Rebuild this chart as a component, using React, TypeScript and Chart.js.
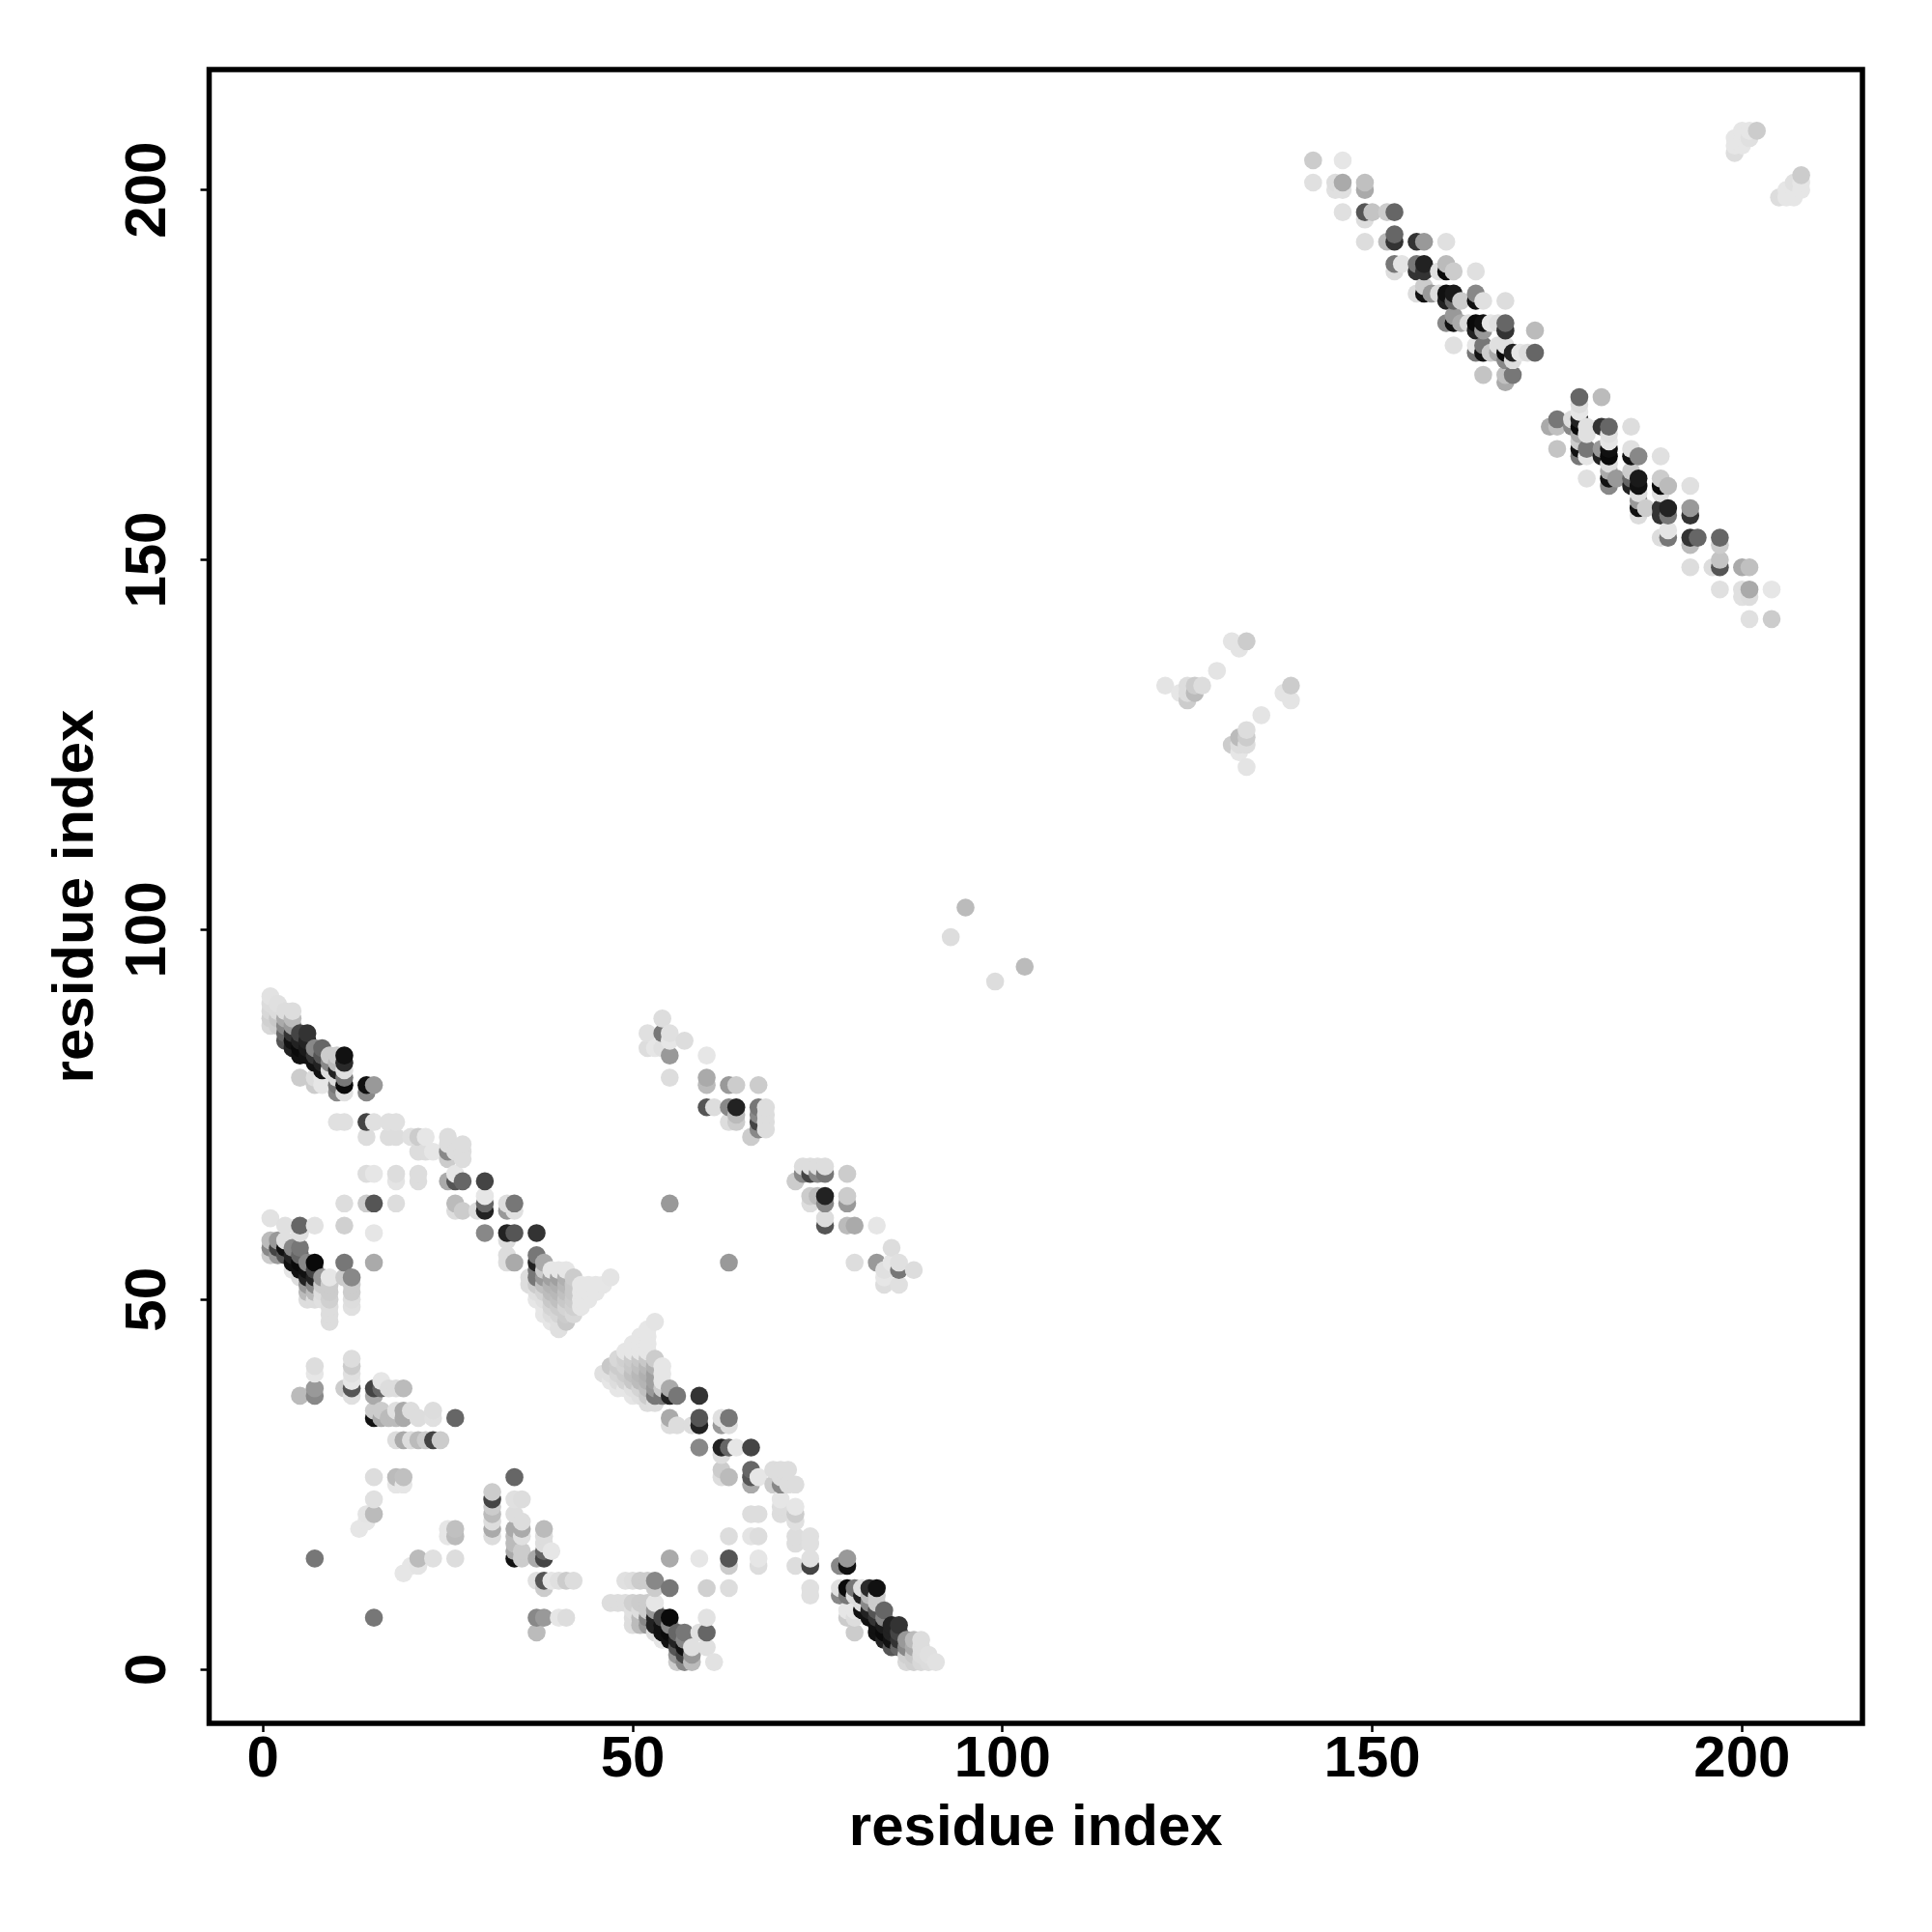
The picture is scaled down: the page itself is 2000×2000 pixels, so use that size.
import React, { useEffect, useRef } from "react";
import { Chart, registerables } from "chart.js";

Chart.register(...registerables);

type Contact = [number, number, number];

const tickValues = [0, 50, 100, 150, 200];
const axisTitle = "residue index";

const contactsHelixEnds: Contact[] = [
  [1,91,0xe2],[1,90,0xdc],[1,89,0xd8],[1,88,0xd0],[1,87,0xd8],
  [2,90,0xe0],[2,89,0xdc],[2,88,0xc8],[2,87,0xd0],
  [3,89,0xdd],[3,88,0xaa],[3,87,0x88],[3,86,0x66],[3,85,0x55],
  [4,89,0xdd],[4,88,0xbb],[4,87,0x99],[4,86,0x33],[4,85,0x11],[4,84,0x22],
  [5,86,0x44],[5,85,0x22],[5,84,0x0a],[5,83,0x11],[5,80,0xcc],
  [6,86,0x33],[6,85,0x22],[6,84,0x1a],[6,83,0x11],
  [7,84,0x88],[7,83,0x33],[7,82,0x11],[7,80,0xdd],[7,79,0xcc],
  [8,84,0x66],[8,83,0x55],[8,82,0x22],[8,81,0x11],[8,80,0xe6],[8,79,0xe6],
  [9,83,0xcc],[9,82,0x88],[9,81,0xdd],
  [10,83,0xcc],[10,82,0xbb],[10,81,0x22],[10,80,0xdd],[10,79,0x77],[10,78,0x88],
  [11,83,0x11],[11,82,0x2a],[11,81,0xe0],[11,80,0x77],[11,79,0x0a],[11,78,0xe0],
  [14,79,0x11],[14,78,0x88],[15,79,0x99],
];

const contactsMiddleBand: Contact[] = [
  [10,74,0xe0],[11,74,0xe0],[14,74,0x44],[15,74,0xe0],[17,74,0xe0],[18,74,0xe0],
  [14,72,0xdd],[17,72,0xdd],[18,72,0xdd],[20,72,0xe0],[21,72,0xcc],[22,72,0xe6],[25,72,0xdd],
  [25,71,0xdd],[27,71,0xdd],[21,70,0xdd],[22,70,0xdd],[23,70,0xe6],[25,70,0x88],[26,70,0xdd],[27,70,0xdd],
  [25,69,0xcc],[27,69,0xdd],
  [14,67,0xdd],[15,67,0xe6],[18,67,0xdd],[21,67,0xdd],[26,67,0xe6],
  [18,66,0xe4],[21,66,0xdd],[25,66,0xaa],[26,66,0x55],[27,66,0x66],[30,66,0x44],
  [11,63,0xdd],[14,63,0xcc],[15,63,0x55],[18,63,0xdd],[26,63,0xbb],[30,64,0xe6],[30,63,0x66],[33,63,0xdd],[34,63,0x77],
  [26,62,0xdd],[27,62,0xcc],[29,62,0xdd],[30,62,0x22],[33,62,0x99],[34,62,0xe0],
  [30,59,0x88],[33,59,0x22],[34,59,0x55],[37,59,0x33],[33,58,0xdd],[33,56,0xdd],[33,55,0xdd],[34,55,0xaa],
  [11,60,0xd0],[15,59,0xe6],[11,55,0x77],[15,55,0xaa],
];

const contactsLowerCluster: Contact[] = [
  [1,61,0xe2],[3,60,0xe0],[5,60,0x66],[7,60,0xe2],[5,59,0xe0],
  [1,58,0xbb],[1,57,0x88],[1,56,0xcc],[2,58,0x99],[2,57,0x44],[2,56,0x99],[3,58,0xe0],[3,57,0x11],[3,56,0x55],
  [4,57,0x88],[4,56,0x22],[4,55,0x11],[4,54,0xe6],[5,57,0x77],[5,56,0x66],[5,55,0x0a],[5,54,0x11],[5,53,0xdd],
  [6,55,0x88],[6,54,0x11],[6,53,0x22],[6,52,0x99],[6,51,0xbb],[6,50,0xdd],
  [7,55,0x0a],[7,54,0x44],[7,53,0x22],[7,52,0x88],[7,51,0xbb],[7,50,0xdd],
  [8,53,0x99],[8,52,0xcc],[8,51,0xdd],[8,50,0xe0],
  [9,53,0xe6],[9,52,0xcc],[9,51,0xcc],[9,50,0xd0],[9,49,0xdd],[9,48,0xdd],[9,47,0xdd],
  [11,53,0xcc],[12,53,0x88],[12,52,0xcc],[12,51,0xcc],[12,50,0xdd],[12,49,0xe0],
];

const contactsTriangle: Contact[] = [
  [36,53,0xdd],[36,52,0xdd],
  [37,56,0x77],[37,55,0x22],[37,54,0x77],[37,53,0x77],[37,52,0xcc],[37,51,0xe0],[37,50,0xe6],
  [38,55,0xaa],[38,54,0xcc],[38,53,0x99],[38,52,0xc0],[38,51,0xd4],[38,50,0xe0],[38,49,0xe6],[38,48,0xe6],
  [39,54,0xe6],[39,53,0xa0],[39,52,0xb4],[39,51,0xbc],[39,50,0xc8],[39,49,0xd4],[39,48,0xdd],[39,47,0xe6],
  [40,54,0xe6],[40,53,0xa0],[40,52,0xb0],[40,51,0xb8],[40,50,0xc0],[40,49,0xcc],[40,48,0xd6],[40,47,0xe0],[40,46,0xe0],
  [41,54,0xe6],[41,53,0xb0],[41,52,0xb8],[41,51,0xc0],[41,50,0xc8],[41,49,0xd4],[41,48,0xcc],[41,47,0xc8],
  [42,53,0xcc],[42,52,0xc8],[42,51,0xc8],[42,50,0xcc],[42,49,0xd0],[42,48,0xd8],
  [43,52,0xe6],[43,51,0xe6],[43,50,0xe6],[43,49,0xe6],
  [44,52,0xe6],[44,51,0xe6],[44,50,0xe6],
  [45,52,0xe6],[45,51,0xe6],[46,52,0xe6],[47,53,0xe4],
];

const contactsSheetLow: Contact[] = [
  [5,37,0xbb],[7,41,0xdd],[7,40,0xe6],[7,38,0x99],[7,37,0x88],
  [11,38,0xcc],[12,42,0xdd],[12,41,0xcc],[12,40,0xe0],[12,39,0xe6],[12,38,0x55],[12,37,0xe0],
  [15,38,0x44],[15,37,0xaa],[16,39,0xe6],[16,38,0x66],[17,38,0xdd],[18,38,0xdd],[19,38,0xbb],
  [15,35,0xcc],[15,34,0x11],[16,35,0xcc],[16,34,0xaa],[17,34,0xbb],[18,35,0xe0],[18,34,0xbb],
  [19,35,0xaa],[19,34,0xaa],[20,35,0xdd],[21,34,0xdd],[23,35,0xdd],[23,34,0xe0],[26,34,0x66],
  [18,31,0xdd],[19,31,0xaa],[20,31,0xdd],[21,31,0xbb],[22,31,0xcc],[23,31,0x44],[24,31,0xcc],
  [15,26,0xdd],[18,26,0xbb],[19,26,0xc0],[18,25,0xe6],[19,25,0xe6],
  [15,23,0xe0],[15,21,0xbb],[14,21,0xe4],[14,20,0xe6],[13,19,0xe6],
  [7,15,0x77],
];

const contactsMidRight: Contact[] = [
  [54,88,0xdd],[52,86,0xe0],[54,86,0x77],[55,86,0xe0],[52,84,0xdd],[53,84,0xe6],[54,84,0xe0],
  [55,85,0xe6],[57,85,0xdd],[55,83,0x99],[55,80,0xdd],
  [60,83,0xe6],[60,80,0xaa],[60,79,0xbb],[63,79,0x99],[64,79,0xcc],[67,79,0xcc],
  [60,76,0x55],[61,76,0xdd],[63,76,0x88],[64,76,0x22],[67,76,0x77],[68,76,0xdd],
  [64,75,0xbb],[67,75,0x88],[68,75,0xdd],[63,74,0xdd],[64,74,0xcc],[67,74,0x44],[68,74,0xdd],[67,73,0x88],[68,73,0xdd],[66,72,0xcc],
  [55,63,0x99],
];

const contactsLateral: Contact[] = [
  [95,103,0xbb],[93,99,0xdd],
  [122,133,0xe4],[124,132,0xe6],[125,133,0xdd],[125,132,0xdd],[125,131,0xcc],
  [126,133,0xcc],[126,132,0xbb],[127,133,0xdd],[129,135,0xe4],[131,139,0xe4],[132,138,0xe4],[133,139,0xcc],
];

const contactsTopBand: Contact[] = [
  [142,204,0xcc],[146,204,0xe6],[142,201,0xe0],[145,201,0xdd],[145,200,0xe0],[146,201,0xaa],[146,200,0xe0],
  [149,201,0xc0],[149,200,0xaa],[146,197,0xe0],[149,197,0x55],[150,197,0xc4],[149,196,0xdd],[152,197,0xcc],[153,197,0x66],
  [149,193,0xdd],[152,193,0xbb],[153,194,0x66],[153,193,0x33],[156,193,0x33],[157,193,0x99],[160,193,0xe0],
  [153,190,0x77],[154,190,0xe4],[153,189,0xdd],[156,190,0x77],[156,189,0x33],[157,190,0x22],[157,189,0x33],
  [160,190,0xbb],[160,189,0x0a],[161,189,0xcc],[159,189,0xe0],[164,189,0xe0],
  [156,186,0xdd],[157,187,0xcc],[157,186,0x11],[158,186,0x99],[159,186,0xdd],[160,186,0x11],[160,185,0x22],
  [161,186,0x1a],[161,185,0x66],[162,185,0xcc],[164,186,0x88],[164,185,0x11],[165,185,0xe0],[168,185,0xdd],
  [160,182,0x88],[161,183,0x99],[161,182,0x11],[162,182,0xaa],[163,182,0xdd],[164,182,0x0a],[164,181,0x22],
  [165,182,0x11],[165,181,0x99],[166,182,0xe6],[167,182,0xe0],[168,182,0x66],[168,181,0x33],[172,181,0xbb],[161,179,0xe0],
  [164,179,0xe6],[164,178,0x77],[165,179,0x77],[165,178,0x11],[166,178,0xcc],[167,178,0xaa],[167,179,0xe0],[168,179,0xe0],
  [168,178,0x0a],[168,177,0x88],[169,178,0x22],[169,177,0xdd],[170,178,0xe6],[171,178,0xdd],[172,178,0x66],
  [165,175,0xc4],[168,175,0xc0],[168,174,0xaa],[169,175,0x77],
];

const contactsCorner: Contact[] = [
  [199,205,0xdd],[199,206,0xe6],[199,207,0xe6],[200,206,0xe6],[200,207,0xe6],[200,208,0xe6],[201,207,0xe0],[201,208,0xe6],[202,208,0xcc],
];

const contactTables = [
  contactsHelixEnds, contactsMiddleBand, contactsLowerCluster, contactsTriangle,
  contactsSheetLow, contactsMidRight, contactsLateral, contactsTopBand, contactsCorner,
];

const fontFamily = '"Liberation Sans", Arimo, Helvetica, Arial, sans-serif';

export default function App() {
  const ref = useRef<HTMLCanvasElement>(null);
  useEffect(() => {
    const canvas = ref.current;
    if (!canvas) return;
    const points = contactTables
      .flat()
      .flatMap(([i, j, g]) => [{ x: i, y: j, g }, { x: j, y: i, g }])
      .sort((a, b) => a.x - b.x || a.y - b.y);
    const frame = {
      id: "frame",
      afterDatasetsDraw(c: Chart) {
        const { left, top, width, height } = c.chartArea;
        const ctx = c.ctx;
        ctx.save();
        ctx.lineWidth = 5.5;
        ctx.strokeStyle = "#000";
        ctx.strokeRect(left, top, width, height);
        ctx.restore();
      },
    };
    const ticks = (scale: any) => {
      scale.ticks = tickValues.map((value) => ({ value }));
    };
    const chart = new Chart(canvas, {
      type: "scatter",
      data: {
        datasets: [
          {
            data: points.map(({ x, y }) => ({ x, y })),
            pointRadius: 9.3,
            pointHoverRadius: 9.3,
            pointBorderWidth: 0,
            pointBackgroundColor: points.map(({ g }) => `rgb(${g},${g},${g})`),
          },
        ],
      },
      options: {
        animation: false,
        responsive: false,
        events: [],
        layout: { padding: { top: 72, right: 72, left: 0, bottom: 0 } },
        plugins: { legend: { display: false }, tooltip: { enabled: false }, title: { display: false } },
        scales: {
          x: {
            type: "linear",
            min: -7.28,
            max: 216.28,
            afterBuildTicks: ticks,
            afterFit: (s: any) => { s.height = 216; },
            border: { display: false },
            grid: { drawOnChartArea: false, drawTicks: true, tickLength: 9, tickWidth: 2.5, tickColor: "#000" },
            ticks: {
              color: "#000",
              maxRotation: 0,
              autoSkip: false,
              padding: -7,
              font: { family: fontFamily, size: 60, weight: "bold" },
            },
            title: {
              display: true,
              text: axisTitle,
              color: "#000",
              font: { family: fontFamily, size: 60, weight: "bold" },
              padding: { top: 0, bottom: 71 },
            },
          },
          y: {
            type: "linear",
            min: -7.28,
            max: 216.28,
            afterBuildTicks: ticks,
            afterFit: (s: any) => { s.width = 216.5; },
            border: { display: false },
            grid: { drawOnChartArea: false, drawTicks: true, tickLength: 9, tickWidth: 2.5, tickColor: "#000" },
            ticks: {
              color: "#000",
              minRotation: 90,
              maxRotation: 90,
              autoSkip: false,
              crossAlign: "center",
              padding: 3,
              font: { family: fontFamily, size: 60, weight: "bold" },
            },
            title: {
              display: true,
              text: axisTitle,
              color: "#000",
              font: { family: fontFamily, size: 60, weight: "bold" },
              padding: { top: 43, bottom: 0 },
            },
          },
        },
      },
      plugins: [frame],
    } as any);
    return () => chart.destroy();
  }, []);
  return (
    <div style={{ position: "absolute", left: 0, top: 0, width: 2000, height: 2000, background: "#fff" }}>
      <canvas ref={ref} width={2000} height={2000} style={{ display: "block" }} />
    </div>
  );
}
